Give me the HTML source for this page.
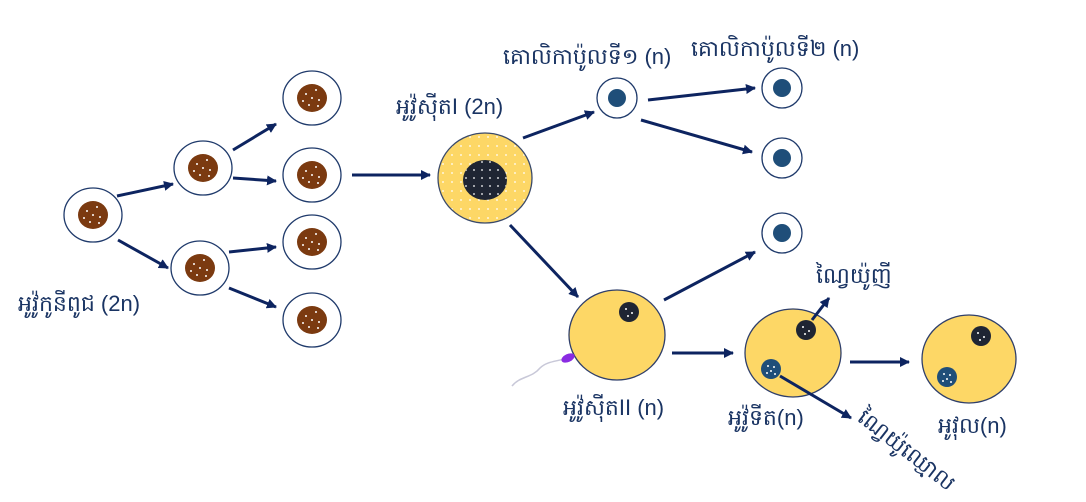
<!DOCTYPE html>
<html><head><meta charset="utf-8"><style>
html,body{margin:0;padding:0;background:#fff;width:1086px;height:502px;overflow:hidden}
text{font-family:"Liberation Sans","Noto Sans CJK SC",sans-serif;fill:#1a3463}
</style></head><body>
<svg width="1086" height="502" viewBox="0 0 1086 502" xmlns="http://www.w3.org/2000/svg">
<defs>
<marker id="a" markerWidth="10" markerHeight="10" refX="9" refY="5" orient="auto" markerUnits="userSpaceOnUse"><path d="M0,0 L10,5 L0,10 Z" fill="#0d2460"/></marker>
<pattern id="dots" width="8" height="8" patternUnits="userSpaceOnUse"><circle cx="2" cy="2" r="0.9" fill="#fff"/></pattern>
<pattern id="ydots" width="9" height="9" patternUnits="userSpaceOnUse"><rect width="9" height="9" fill="#fdd766"/><circle cx="2" cy="2" r="0.9" fill="#fff"/></pattern>
<g id="cell"><ellipse rx="29" ry="27" fill="#fff" stroke="#1f3a6b" stroke-width="1.3"/><ellipse rx="15" ry="14" fill="#7b3a10"/><circle cx="-6" cy="-4" r="1" fill="#fff"/><circle cx="4" cy="-8" r="1" fill="#fff"/><circle cx="0" cy="0" r="1" fill="#fff"/><circle cx="7" cy="2" r="1" fill="#fff"/><circle cx="-3" cy="7" r="1" fill="#fff"/><circle cx="6" cy="8" r="1" fill="#fff"/><circle cx="-9" cy="3" r="1" fill="#fff"/></g>
<g id="pb"><circle r="20" fill="#fff" stroke="#1f3a6b" stroke-width="1.3"/><circle r="9" fill="#1f4e79"/></g>
<g id="dn"><circle r="10" fill="#1f2533"/><circle cx="-3" cy="-3" r="1" fill="#fff"/><circle cx="3" cy="1" r="1" fill="#fff"/><circle cx="-1" cy="4" r="1" fill="#fff"/></g>
<g id="bn"><circle r="10" fill="#1f4e79"/><circle cx="-3" cy="-3" r="1" fill="#fff"/><circle cx="3" cy="-2" r="1" fill="#fff"/><circle cx="0" cy="2" r="1" fill="#fff"/><circle cx="-4" cy="4" r="1" fill="#fff"/><circle cx="4" cy="5" r="1" fill="#fff"/></g>
</defs>
<g stroke="#0d2460" stroke-width="3" fill="none" marker-end="url(#a)">
<line x1="117" y1="196" x2="173" y2="184"/>
<line x1="118" y1="240" x2="168" y2="268"/>
<line x1="233" y1="150" x2="276" y2="124"/>
<line x1="233" y1="178" x2="276" y2="181"/>
<line x1="229" y1="252" x2="276" y2="247"/>
<line x1="229" y1="288" x2="276" y2="307"/>
<line x1="352" y1="175" x2="430" y2="175"/>
<line x1="523" y1="138" x2="594" y2="112"/>
<line x1="648" y1="100" x2="755" y2="88"/>
<line x1="641" y1="120" x2="752" y2="152"/>
<line x1="510" y1="225" x2="578" y2="297"/>
<line x1="664" y1="300" x2="755" y2="252"/>
<line x1="672" y1="353" x2="733" y2="353"/>
<line x1="850" y1="362" x2="909" y2="362"/>
</g>
<use href="#cell" x="93" y="215"/>
<use href="#cell" x="203" y="168"/>
<use href="#cell" x="200" y="268"/>
<use href="#cell" x="312" y="98"/>
<use href="#cell" x="312" y="175"/>
<use href="#cell" x="312" y="242"/>
<use href="#cell" x="312" y="320"/>
<ellipse cx="485" cy="178" rx="47" ry="45" fill="url(#ydots)" stroke="#3a4a6b" stroke-width="1.3"/>
<ellipse cx="485" cy="180" rx="22" ry="20" fill="#1f2533"/>
<ellipse cx="485" cy="180" rx="22" ry="20" fill="url(#dots)"/>
<use href="#pb" x="617" y="98"/>
<use href="#pb" x="782" y="88"/>
<use href="#pb" x="782" y="158"/>
<use href="#pb" x="782" y="233"/>
<ellipse cx="617" cy="335" rx="48" ry="45" fill="#fdd766" stroke="#2f3f6b" stroke-width="1.3"/>
<use href="#dn" x="629" y="312"/>
<path d="M572,356 C560,362 548,360 540,368 C532,378 520,376 512,386" stroke="#c8c8d8" stroke-width="1.5" fill="none"/>
<ellipse cx="568" cy="358" rx="7" ry="4" fill="#8a2be2" transform="rotate(-25 568 358)"/>
<ellipse cx="793" cy="353" rx="48" ry="44" fill="#fdd766" stroke="#2f3f6b" stroke-width="1.3"/>
<use href="#dn" x="806" y="330"/>
<use href="#bn" x="771" y="369"/>
<ellipse cx="969" cy="359" rx="47" ry="44" fill="#fdd766" stroke="#2f3f6b" stroke-width="1.3"/>
<use href="#dn" x="981" y="336"/>
<use href="#bn" x="947" y="377"/>
<g stroke="#0d2460" stroke-width="3" fill="none" marker-end="url(#a)">
<line x1="812" y1="320" x2="829" y2="298"/>
<line x1="780" y1="376" x2="851" y2="418"/>
</g>
<text x="18" y="311" font-size="22">អូវ៉ូកូនីពូជ (2n)</text>
<text x="396" y="114" font-size="22">អូវ៉ូស៊ីតI (2n)</text>
<text x="503" y="64" font-size="22">គោលិកាប៉ូលទី១ (n)</text>
<text x="691" y="56" font-size="22">គោលិកាប៉ូលទី២ (n)</text>
<text x="563" y="415" font-size="22">អូវ៉ូស៊ីតII (n)</text>
<text x="728" y="425" font-size="22">អូវ៉ូទីត(n)</text>
<text x="816" y="283" font-size="22">ណ្វៃយ៉ូញី</text>
<text x="938" y="433" font-size="22">អូវុល(n)</text>
<text x="856" y="420" font-size="22" transform="rotate(38 856 420)">ណ្វៃយ៉ូឈ្មោល</text>
</svg>
</body></html>
